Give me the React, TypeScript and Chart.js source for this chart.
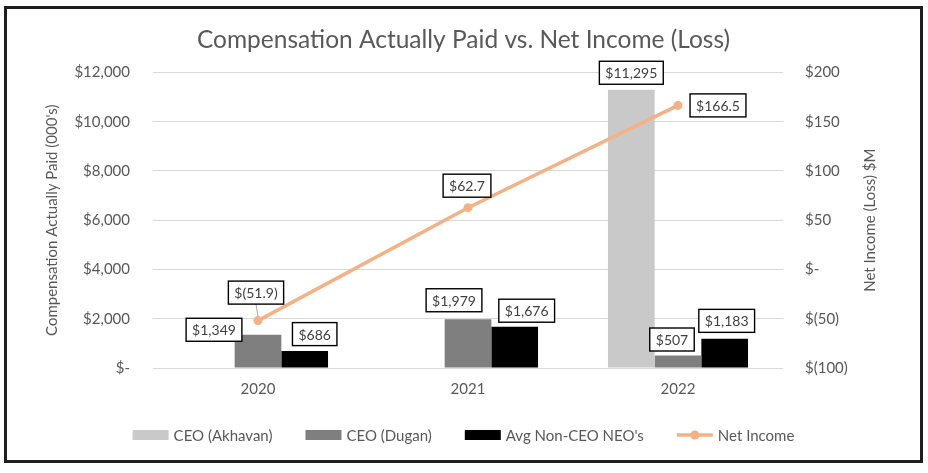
import { useEffect, useRef } from 'react';
import { Chart, registerables } from 'chart.js';

Chart.register(...registerables);

// ---- data ----
const categories = ['2020', '2021', '2022'];
const ceoAkhavan: (number | null)[] = [null, null, 11295];
const ceoDugan = [1349, 1979, 507];
const avgNonCeo = [686, 1676, 1183];
const netIncome = [-51.9, 62.7, 166.5];
const compTicks = [0, 2000, 4000, 6000, 8000, 10000, 12000];
const incomeTicks = [-100, -50, 0, 50, 100, 150, 200];
const seriesNames = ['CEO (Akhavan)', 'CEO (Dugan)', "Avg Non-CEO NEO's", 'Net Income'];

// ---- styles ----
const FONT = 'Lato, "Noto Sans", sans-serif';
const TEXT = '#595959';
const COLORS = ['#c9c9c9', '#7f7f7f', '#000000', '#f4b183'];
// label offsets from element anchor [dx, dy, leader]
const labelOffsets: Record<string, [number, number, boolean?]> = {
  '0-2': [0, -17],
  '1-0': [-44, -5],
  '1-1': [-14, -19],
  '1-2': [-6, -16],
  '2-0': [10, -17],
  '2-1': [12, -16],
  '2-2': [2, -18],
  '3-0': [-2, -28, true],
  '3-1': [-1, -22],
  '3-2': [40, 0],
};

const fmtAxis = (v: number) => {
  if (v === 0) return '$-';
  const s = Math.abs(v).toLocaleString('en-US');
  return v < 0 ? `$(${s})` : `$${s}`;
};
const fmtLabel = (v: number, isLine: boolean) => {
  const s = isLine ? Math.abs(v).toFixed(1) : Math.abs(v).toLocaleString('en-US');
  return v < 0 ? `$(${s})` : `$${s}`;
};

const valueLabels = {
  id: 'valueLabels',
  afterDatasetsDraw(chart: any) {
    const ctx = chart.ctx;
    ctx.save();
    ctx.font = `14px ${FONT}`;
    ctx.textAlign = 'center';
    ctx.textBaseline = 'middle';
    chart.data.datasets.forEach((ds: any, di: number) => {
      const meta = chart.getDatasetMeta(di);
      const isLine = ds.type === 'line';
      meta.data.forEach((el: any, i: number) => {
        const v = ds.data[i];
        if (v == null) return;
        const text = fmtLabel(v, isLine);
        const [dx, dy, leader] = labelOffsets[`${di}-${i}`] ?? [0, -16];
        const cx = el.x + dx;
        const cy = el.y + dy;
        const w = ctx.measureText(text).width + 12;
        const h = 23;
        if (leader) {
          ctx.strokeStyle = '#a6a6a6';
          ctx.lineWidth = 1;
          ctx.beginPath();
          ctx.moveTo(cx, cy + h / 2);
          ctx.lineTo(el.x, el.y - 4);
          ctx.stroke();
        }
        ctx.fillStyle = '#ffffff';
        ctx.fillRect(cx - w / 2, cy - h / 2, w, h);
        ctx.strokeStyle = '#000000';
        ctx.lineWidth = 1.4;
        ctx.strokeRect(cx - w / 2, cy - h / 2, w, h);
        ctx.fillStyle = '#404040';
        ctx.fillText(text, cx, cy + 1);
      });
    });
    ctx.restore();
  },
};

const customDecor = {
  id: 'customDecor',
  afterDraw(chart: any) {
    const ctx = chart.ctx;
    const area = chart.chartArea;
    ctx.save();
    // right axis title (reads bottom to top)
    ctx.font = `15px ${FONT}`;
    ctx.fillStyle = TEXT;
    ctx.textAlign = 'center';
    ctx.textBaseline = 'middle';
    ctx.translate(863, (area.top + area.bottom) / 2);
    ctx.rotate(-Math.PI / 2);
    ctx.fillText('Net Income (Loss) $M', 0, 0);
    ctx.restore();

    // legend
    ctx.save();
    ctx.font = `15px ${FONT}`;
    ctx.textBaseline = 'middle';
    ctx.textAlign = 'left';
    const y = 426;
    const boxW = 36;
    const gap = 5;
    const spacing = 33;
    const widths = seriesNames.map((n) => boxW + gap + ctx.measureText(n).width);
    const total = widths.reduce((a, b) => a + b, 0) + spacing * (seriesNames.length - 1);
    let x = (chart.width - total) / 2;
    seriesNames.forEach((n, i) => {
      if (i < 3) {
        ctx.fillStyle = COLORS[i];
        ctx.fillRect(x, y - 5, boxW, 10);
      } else {
        ctx.strokeStyle = COLORS[3];
        ctx.lineWidth = 3.5;
        ctx.beginPath();
        ctx.moveTo(x, y);
        ctx.lineTo(x + boxW, y);
        ctx.stroke();
        ctx.fillStyle = COLORS[3];
        ctx.beginPath();
        ctx.arc(x + boxW / 2, y, 4.5, 0, Math.PI * 2);
        ctx.fill();
      }
      ctx.fillStyle = TEXT;
      ctx.fillText(n, x + boxW + gap, y + 1);
      x += widths[i] + spacing;
    });
    ctx.restore();
  },
};

export default function App() {
  const ref = useRef<HTMLCanvasElement | null>(null);
  useEffect(() => {
    if (!ref.current) return;
    const chart = new Chart(ref.current, {
      type: 'bar',
      data: {
        labels: categories,
        datasets: [
          { type: 'bar', label: seriesNames[0], data: ceoAkhavan, backgroundColor: COLORS[0], yAxisID: 'y', order: 1 },
          { type: 'bar', label: seriesNames[1], data: ceoDugan, backgroundColor: COLORS[1], yAxisID: 'y', order: 1 },
          { type: 'bar', label: seriesNames[2], data: avgNonCeo, backgroundColor: COLORS[2], yAxisID: 'y', order: 1 },
          {
            type: 'line',
            label: seriesNames[3],
            data: netIncome,
            borderColor: COLORS[3],
            backgroundColor: COLORS[3],
            borderWidth: 3.5,
            pointRadius: 4.5,
            pointBackgroundColor: COLORS[3],
            pointBorderWidth: 0,
            yAxisID: 'y1',
            order: 0,
          },
        ],
      } as any,
      options: {
        animation: false,
        responsive: true,
        maintainAspectRatio: false,
        layout: { padding: { left: 0, right: 0, top: 0, bottom: 50 } },
        datasets: { bar: { categoryPercentage: 0.667, barPercentage: 1 } },
        plugins: {
          legend: { display: false },
          tooltip: { enabled: false },
          title: {
            display: true,
            text: 'Compensation Actually Paid vs. Net Income (Loss)',
            color: TEXT,
            font: { family: FONT, size: 24.5, weight: 'normal' },
            padding: { top: 16, bottom: 18 },
          },
        },
        scales: {
          x: {
            grid: { display: false, drawTicks: false },
            border: { display: false },
            ticks: { color: TEXT, font: { family: FONT, size: 15 }, padding: 12 },
          },
          y: {
            position: 'left',
            min: compTicks[0],
            max: compTicks[compTicks.length - 1],
            afterBuildTicks: (s: any) => {
              s.ticks = compTicks.map((v) => ({ value: v }));
            },
            afterFit: (s: any) => {
              s.width = 146;
            },
            grid: { color: '#d9d9d9', lineWidth: 1, drawTicks: false },
            border: { display: false },
            ticks: { color: TEXT, font: { family: FONT, size: 15 }, padding: 23, callback: (v: any) => fmtAxis(Number(v)) },
            title: {
              display: true,
              text: "Compensation Actually Paid (000's)",
              color: TEXT,
              font: { family: FONT, size: 15 },
              padding: { top: 36, bottom: 4 },
            },
          },
          y1: {
            position: 'right',
            min: incomeTicks[0],
            max: incomeTicks[incomeTicks.length - 1],
            afterBuildTicks: (s: any) => {
              s.ticks = incomeTicks.map((v) => ({ value: v }));
            },
            afterFit: (s: any) => {
              s.width = 137;
            },
            grid: { display: false, drawTicks: false },
            border: { display: false },
            ticks: { color: TEXT, font: { family: FONT, size: 15 }, padding: 22, callback: (v: any) => fmtAxis(Number(v)) },
          },
        },
      } as any,
      plugins: [valueLabels, customDecor],
    });
    return () => chart.destroy();
  }, []);

  return (
    <div
      style={{
        position: 'absolute',
        left: 4,
        top: 6,
        width: 919,
        height: 457,
        border: '3px solid #1e1e1e',
        boxSizing: 'border-box',
        background: '#fff',
      }}
    >
      <div style={{ position: 'relative', width: 913, height: 451 }}>
        <canvas ref={ref} />
      </div>
    </div>
  );
}
